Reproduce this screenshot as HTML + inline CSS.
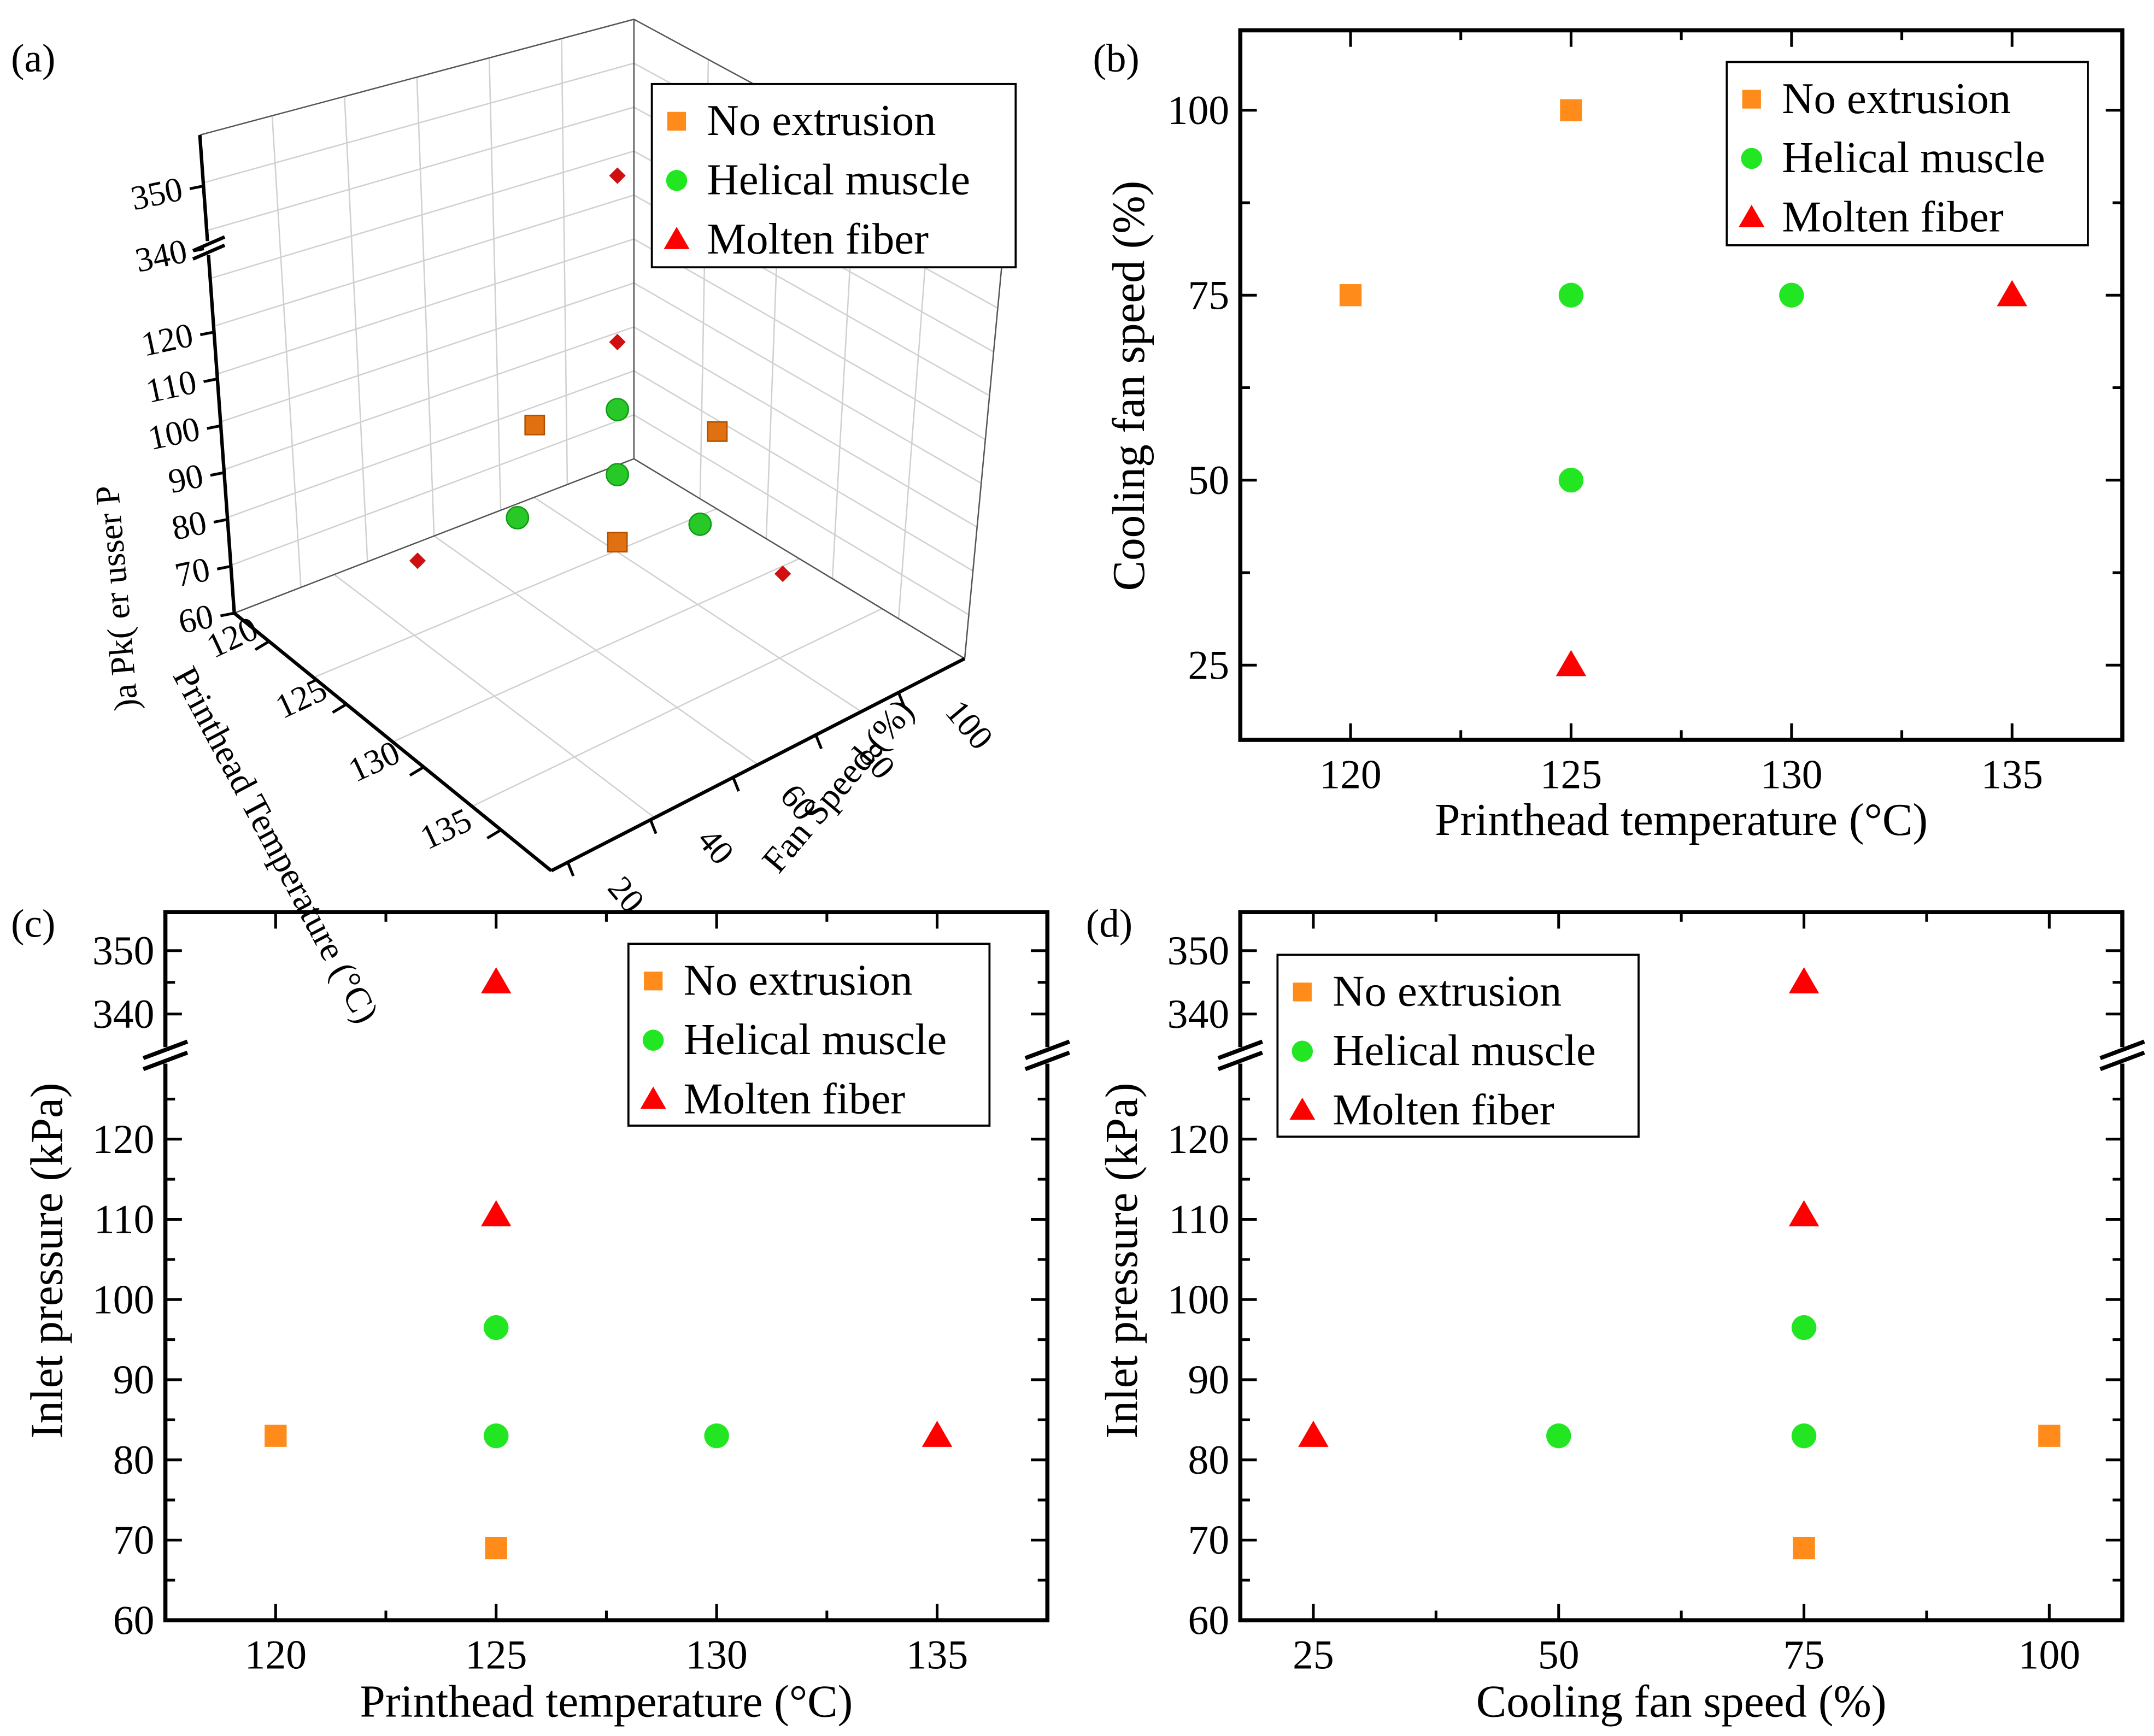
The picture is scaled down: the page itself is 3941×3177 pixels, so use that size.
<!DOCTYPE html>
<html><head><meta charset="utf-8"><style>
html,body{margin:0;padding:0;background:#fff}
svg{display:block}
svg text{font-family:"Liberation Serif","Times New Roman",serif !important;fill:#000}
</style></head><body>
<svg id="fig" width="3941" height="3177" viewBox="0 0 1563 1260" xmlns="http://www.w3.org/2000/svg" font-family="Liberation Serif, serif"></svg>
<script>
// ---- data ----
const tempB=[125,120,125,130,125,125,135];
const fanB=[100,75,75,75,50,25,75];
const catB=['no','no','hel','hel','hel','mol','mol'];
const tempC=[120,125,125,125,130,125,125,135];
const presC=[83,69,96.5,83,83,345,110.5,83];
const catC=['no','no','hel','hel','hel','mol','mol','mol'];
const fanD=[75,100,75,75,50,75,75,25];
const presD=[69,83,96.5,83,83,345,110.5,83];
const catD=['no','no','hel','hel','hel','mol','mol','mol'];
const temp3=[120,125,125,125,130,125,125,125,125,135];
const fan3=[75,100,75,50,75,75,75,75,25,75];
const pres3=[83,83,69,83,83,83,96.5,110.5,83,83];
const cat3=['no','no','no','hel','hel','hel','hel','mol','mol','mol'];
const temp3b=[125];
const fan3b=[75];
const pres3b=[345];
const xTicksT=[120,125,130,135];
const yTicksFan=[25,50,75,100];
const xTicksFan=[25,50,75,100];
const yTicksLow=[60,70,80,90,100,110,120];
const yTicksHigh=[340,350];
const legendLabels=['No extrusion','Helical muscle','Molten fiber'];

const NS='http://www.w3.org/2000/svg';
const svg=document.getElementById('fig');
function mk(tag,attrs,parent,txt){const e=document.createElementNS(NS,tag);for(const k in attrs)e.setAttribute(k,attrs[k]);if(tag==='text')e.setAttribute('font-family','Liberation Serif, serif');if(txt!==undefined)e.textContent=String(txt);(parent||svg).appendChild(e);return e;}
const colors={no:'#ff8c1a',hel:'#22e622',mol:'#ff0000'};

function marker(g,c,x,y,s){
  let e;
  if(c==='no'){e=mk('rect',{x:x-8*s,y:y-8*s,width:16*s,height:16*s,fill:colors.no},g);}
  else if(c==='hel'){e=mk('circle',{cx:x,cy:y,r:9*s,fill:colors.hel},g);}
  else {e=mk('polygon',{points:`${x},${y-11*s} ${x+11*s},${y+8*s} ${x-11*s},${y+8*s}`,fill:colors.mol},g);}
  return e;
}

function legend(x,y,w,h){
  const g=mk('g',{});
  
  
  mk('rect',{x:x,y:y,width:w,height:h,fill:'#fff',stroke:'#000','stroke-width':1.5},g);
  ['no','hel','mol'].forEach((c,i)=>{
    const cy=y+27+i*43;
    const m=marker(g,c,x+18,cy,0.85);
    
    
    const t=mk('text',{x:x+40,y:cy+10,'font-size':32},g,legendLabels[i]);
    
    
  });
}

function frame(g,x0,y0,x1,y1){
  mk('rect',{x:x0,y:y0,width:x1-x0,height:y1-y0,fill:'none',stroke:'#000','stroke-width':3},g);
}
function xticks(g,vals,sx,y0,y1,labY,minor){
  vals.forEach(v=>{
    const X=sx(v);
    mk('line',{x1:X,y1:y1,x2:X,y2:y1-12,stroke:'#000','stroke-width':2},g);
    mk('line',{x1:X,y1:y0,x2:X,y2:y0+12,stroke:'#000','stroke-width':2},g);
    const t=mk('text',{x:X,y:labY,'font-size':30,'text-anchor':'middle'},g,v);
    
    
  });
  minor.forEach(v=>{const X=sx(v);
    mk('line',{x1:X,y1:y1,x2:X,y2:y1-7,stroke:'#000','stroke-width':2},g);
    mk('line',{x1:X,y1:y0,x2:X,y2:y0+7,stroke:'#000','stroke-width':2},g);});
}
function yticks(g,vals,sy,x0,x1,minor){
  vals.forEach(v=>{
    const Y=sy(v);
    mk('line',{x1:x0,y1:Y,x2:x0+12,y2:Y,stroke:'#000','stroke-width':2},g);
    mk('line',{x1:x1,y1:Y,x2:x1-12,y2:Y,stroke:'#000','stroke-width':2},g);
    const t=mk('text',{x:x0-8,y:Y+10,'font-size':30,'text-anchor':'end'},g,v);
    
    
  });
  minor.forEach(v=>{const Y=sy(v);
    mk('line',{x1:x0,y1:Y,x2:x0+7,y2:Y,stroke:'#000','stroke-width':2},g);
    mk('line',{x1:x1,y1:Y,x2:x1-7,y2:Y,stroke:'#000','stroke-width':2},g);});
}
function title(g,txt,x,y,rot,name){
  const t=mk('text',{x:x,y:y,'font-size':33,'text-anchor':'middle',transform:rot?`rotate(-90 ${x} ${y})`:''},g,txt);
  
  
}
function breakMarks(g,x0,x1,y){
  [x0,x1].forEach(x=>{
    mk('rect',{x:x-14,y:y-6,width:28,height:12,fill:'#fff'},g);
    mk('line',{x1:x-16,y1:y+2,x2:x+16,y2:y-10,stroke:'#000','stroke-width':3},g);
    mk('line',{x1:x-16,y1:y+10,x2:x+16,y2:y-2,stroke:'#000','stroke-width':3},g);
  });
}

// ---- panel b ----
(function(){
  const g=mk('g',{});
  
  
  const x0=900,x1=1540,y0=22,y1=537;
  const sx=v=>980+(v-120)*32;
  const sy=v=>80+(100-v)*5.37;
  frame(g,x0,y0,x1,y1);
  xticks(g,xTicksT,sx,y0,y1,572,[117.5,122.5,127.5,132.5,137.5]);
  yticks(g,yTicksFan,sy,x0,x1,[37.5,62.5,87.5]);
  title(g,'Printhead temperature (°C)',1220,606,false,'x-axis-title');
  title(g,'Cooling fan speed (%)',830,280,true,'y-axis-title');
  tempB.forEach((t,i)=>{const m=marker(g,catB[i],sx(t),sy(fanB[i]),1);
    
    });
  const l=mk('text',{x:793,y:52,'font-size':29},g,'(b)');
  
  
})();
legend(1253,45,262,133);

// ---- pressure scale for c,d ----
const syP=v=>v<=130?1176-(v-60)*5.82:736-(v-340)*4.6;

function pressurePanel(name,x0,sx,xs,cats,ys,xt,minor,xtitle,lab){
  const g=mk('g',{});
  
  
  const x1=x0+640,y0=662,y1=1176;
  frame(g,x0,y0,x1,y1);
  xticks(g,xt,sx,y0,y1,1211,minor);
  yticks(g,yTicksLow,syP,x0,x1,[65,75,85,95,105,115,125]);
  yticks(g,yTicksHigh,syP,x0,x1,[345]);
  breakMarks(g,x0,x1,766);
  title(g,xtitle,x0+320,1246,false,'x-axis-title');
  title(g,'Inlet pressure (kPa)',x0-75,915,true,'y-axis-title');
  xs.forEach((v,i)=>{const m=marker(g,cats[i],sx(v),syP(ys[i]),1);
    
    });
  const l=mk('text',{x:x0-112,y:680,'font-size':29},g,lab);
  
  
}
pressurePanel('panel-c',120,v=>200+(v-120)*32,tempC,catC,presC,xTicksT,[117.5,122.5,127.5,132.5,137.5],'Printhead temperature (°C)','(c)');
legend(456,685,262,132);
pressurePanel('panel-d',900,v=>953+(v-25)*7.12,fanD,catD,presD,xTicksFan,[37.5,62.5,87.5],'Cooling fan speed (%)','(d)');
legend(927,693,262,132);

// ---- panel a (3D) ----
(function(){
  const g=mk('g',{});
  
  
  const L=[170,445],B=[460,333],R=[700,478],F=[400,632];
  const BT=[460,14],LT=[145,98],RT=[730,160];
  const lerp=(a,b,t)=>[a[0]+(b[0]-a[0])*t,a[1]+(b[1]-a[1])*t];
  const gl={stroke:'#d0d0d0','stroke-width':1};
  for(let i=1;i<6;i++){const t=i/6;const p=lerp(L,B,t),q=lerp(LT,BT,t);mk('line',{x1:p[0],y1:p[1],x2:q[0],y2:q[1],...gl},g);}
  for(let i=1;i<10;i++){const t=i/10;const p=lerp(L,LT,t),q=lerp(B,BT,t);mk('line',{x1:p[0],y1:p[1],x2:q[0],y2:q[1],...gl},g);}
  for(let i=1;i<5;i++){const t=i/5;const p=lerp(B,R,t),q=lerp(BT,RT,t);mk('line',{x1:p[0],y1:p[1],x2:q[0],y2:q[1],...gl},g);}
  for(let i=1;i<10;i++){const t=i/10;const p=lerp(R,RT,t),q=lerp(B,BT,t);mk('line',{x1:p[0],y1:p[1],x2:q[0],y2:q[1],...gl},g);}
  for(let i=1;i<4;i++){const t=i/4;const p=lerp(L,F,t),q=lerp(B,R,t);mk('line',{x1:p[0],y1:p[1],x2:q[0],y2:q[1],...gl},g);}
  for(let i=1;i<4;i++){const t=i/4;const p=lerp(L,B,t),q=lerp(F,R,t);mk('line',{x1:p[0],y1:p[1],x2:q[0],y2:q[1],...gl},g);}
  const el={stroke:'#555','stroke-width':1};
  [[L,B],[B,R],[B,BT],[LT,BT],[BT,RT],[R,RT]].forEach(s=>mk('line',{x1:s[0][0],y1:s[0][1],x2:s[1][0],y2:s[1][1],...el},g));
  const ax={stroke:'#000','stroke-width':2.5};
  [[L,F],[F,R],[L,LT]].forEach(s=>mk('line',{x1:s[0][0],y1:s[0][1],x2:s[1][0],y2:s[1][1],...ax},g));
  const vy=v=>v<=130?(445-(v-60)*3.4):(180-(v-340)*4.5);
  const vx=y=>170-(445-y)*(25/347);
  [60,70,80,90,100,110,120,340,350].forEach(v=>{const y=vy(v),x=vx(y);
    mk('line',{x1:x,y1:y,x2:x-10,y2:y+2,stroke:'#000','stroke-width':2},g);
    const t=mk('text',{x:x-16,y:y+10,'font-size':25,'text-anchor':'end',transform:`rotate(-12 ${x-16} ${y})`},g,v);
    
    });
  mk('rect',{x:148,y:175,width:14,height:10,fill:'#fff'},g);
  mk('line',{x1:140,y1:182,x2:163,y2:172,stroke:'#000','stroke-width':2.5},g);
  mk('line',{x1:140,y1:188,x2:163,y2:178,stroke:'#000','stroke-width':2.5},g);
  [[120,155,478],[125,205,522],[130,258,568],[135,310,617]].forEach(a=>{
    const t=mk('text',{x:a[1],y:a[2],'font-size':25,transform:`rotate(-25 ${a[1]} ${a[2]})`},g,a[0]);
    });
  for(let i=0;i<4;i++){const p=lerp(L,F,(i+0.45)/4.1);mk('line',{x1:p[0],y1:p[1],x2:p[0]-10,y2:p[1]+6,stroke:'#000','stroke-width':2},g);}
  [[20,440,645],[40,505,610],[60,565,578],[80,622,548],[100,685,517]].forEach(a=>{
    const t=mk('text',{x:a[1],y:a[2],'font-size':25,transform:`rotate(50 ${a[1]} ${a[2]})`},g,a[0]);
    });
  for(let i=0;i<5;i++){const p=lerp(F,R,(i+0.2)/5);mk('line',{x1:p[0],y1:p[1],x2:p[0]+4,y2:p[1]+10,stroke:'#000','stroke-width':2},g);}
  let t=mk('text',{x:125,y:490,'font-size':26,transform:'rotate(62 125 490)'},g,'Printhead Temperature (°C)');
  
  t=mk('text',{x:565,y:635,'font-size':26,transform:'rotate(-50 565 635)'},g,'Fan Speed (%)');
  
  t=mk('text',{x:100,y:515,'font-size':25,transform:'rotate(-95 100 515)'},g,')a Pk( er usser P');
  
  const px=(T,Fn)=>448+12*(T-125)+2.9*(Fn-75);
  const py=(T,Fn,P)=>425+7.2*(T-125)-1.25*(Fn-75)-(P<=130?(P-60)*3.5:275+(P-340)*4.5);
  function draw3(T,Fn,P,c){
    const x=px(T,Fn),y=py(T,Fn,P);let m;
    if(c==='no')m=mk('rect',{x:x-7,y:y-7,width:14,height:14,fill:'#e07010',stroke:'#b05000','stroke-width':1},g);
    else if(c==='hel')m=mk('circle',{cx:x,cy:y,r:8,fill:'#28c828',stroke:'#119911','stroke-width':1},g);
    else m=mk('polygon',{points:`${x},${y-6} ${x+6},${y} ${x},${y+6} ${x-6},${y}`,fill:'#d01010'},g);
    
    
  }
  temp3.forEach((T,i)=>draw3(T,fan3[i],pres3[i],cat3[i]));
  temp3b.forEach((T,i)=>draw3(T,fan3b[i],pres3b[i],'mol'));
  const l=mk('text',{x:8,y:52,'font-size':29},g,'(a)');
  
  
})();
legend(473,61,264,133);
</script>
</body></html>
